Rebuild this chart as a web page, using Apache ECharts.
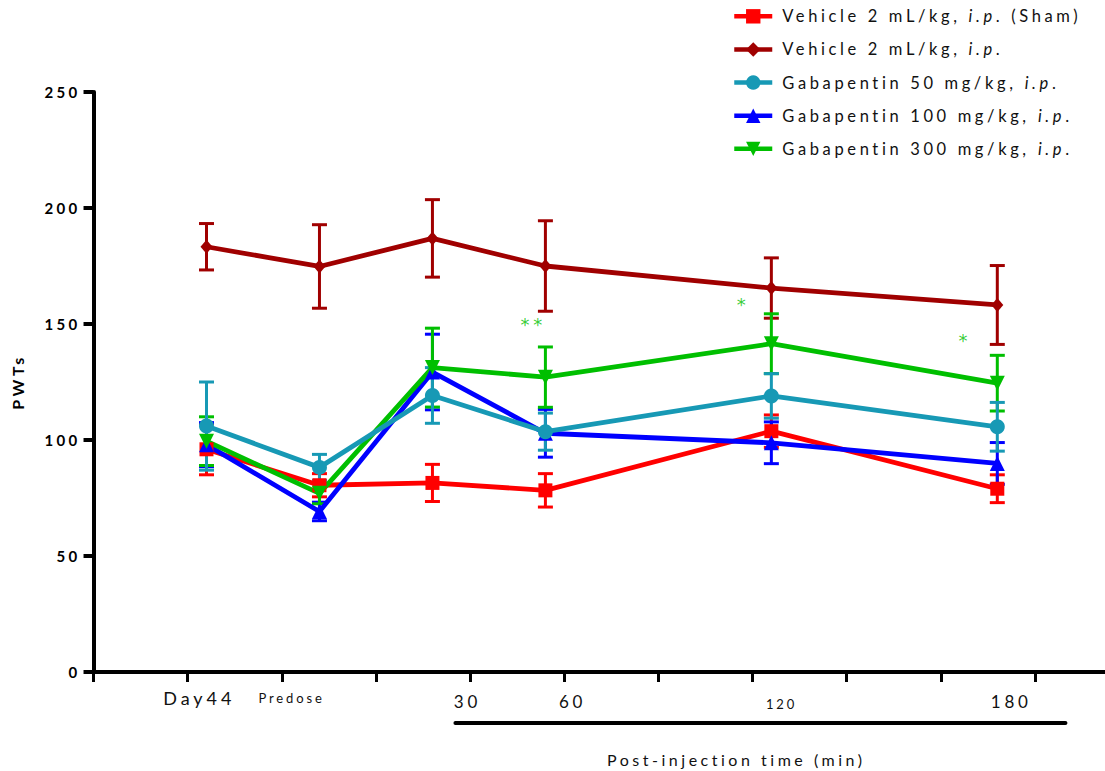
<!DOCTYPE html>
<html><head><meta charset="utf-8">
<script src="https://cdn.jsdelivr.net/npm/echarts@6/dist/echarts.min.js"></script>
<style>
html,body{margin:0;padding:0;background:#fff}
#chart{width:1105px;height:771px}
#chart text{letter-spacing:0.22em}
</style>
</head><body><div id="chart"></div>
<script>
// ---- data ----
// time of each measurement (minutes relative to dosing; Day44 baseline drawn 30 min before predose)
const timeMinutes = [-30, 0, 30, 60, 120, 180];
const seriesNames = [
  'Vehicle 2 mL/kg, i.p. (Sham)',
  'Vehicle 2 mL/kg, i.p.',
  'Gabapentin 50 mg/kg, i.p.',
  'Gabapentin 100 mg/kg, i.p.',
  'Gabapentin 300 mg/kg, i.p.'
];
const shamMean    = [96, 80.5, 81.5, 78.3, 103.8, 79];
const shamSem     = [11, 5, 8, 7.2, 7, 6];
const vehicleMean = [183.3, 174.8, 186.9, 175, 165.5, 158.2];
const vehicleSem  = [10, 18, 16.7, 19.5, 13, 17];
const gaba50Mean  = [106, 88.2, 119.2, 103.6, 119, 105.7];
const gaba50Sem   = [19, 5.6, 12, 8, 9.6, 10.5];
const gaba100Mean = [98, 69.2, 129.3, 102.9, 98.8, 89.9];
const gaba100Sem  = [9.5, 4, 16.3, 10.3, 9, 9];
const gaba300Mean = [99.5, 77, 131.2, 127.1, 141.5, 124.5];
const gaba300Sem  = [10.5, 4.5, 17, 13, 12.9, 12];
// x tick labels (axis units = minutes + 60) and their text
const xLabelPos  = [28.1, 52.6, 99.3, 127.2, 182.7, 243.7];
const xLabelText = ['Day44', 'Predose', '30', '60', '120', '180'];
const xTickValues = [0, 25, 50, 75, 100, 125, 150, 175, 200, 225, 250];
const yTicks = [0, 50, 100, 150, 200, 250];
// significance marks (axis units, PWT value)
const sigX = [116.8, 172.5, 231.4];
const sigY = [149.6, 158.2, 143.1];
const sigText = ['**', '*', '*'];

// ---- letter-spaced text measurement (matches CSS letter-spacing) ----
const LS = 0.22;
if (echarts.setPlatformAPI) {
  const mctx = document.createElement('canvas').getContext('2d');
  echarts.setPlatformAPI({
    measureText: function (text, font) {
      text = text == null ? '' : String(text);
      mctx.font = font || '12px sans-serif';
      const m = mctx.measureText(text);
      const mm = /(\d+(?:\.\d+)?)px/.exec(font || '');
      const size = mm ? parseFloat(mm[1]) : 12;
      return { width: m.width + text.length * LS * size,
        actualBoundingBoxAscent: m.actualBoundingBoxAscent,
        actualBoundingBoxDescent: m.actualBoundingBoxDescent };
    }
  });
}

const OFFSET = 60;
const FONT = 'Lato';
const means = [shamMean, vehicleMean, gaba50Mean, gaba100Mean, gaba300Mean];
const sems = [shamSem, vehicleSem, gaba50Sem, gaba100Sem, gaba300Sem];
const colors = ['#FF0000', '#A00000', '#1799B5', '#0000FF', '#00BF00'];
const symbols = ['rect', 'diamond', 'circle', 'triangle', 'triangle'];
const symSizes = [14, [12, 14], 15, 15, 15];
const symRot = [0, 0, 0, 0, 180];
const drawOrder = [0, 1, 3, 4, 2];

const chart = echarts.init(document.getElementById('chart'), null, { renderer: 'svg' });

const series = [];
drawOrder.forEach(function (k) {
  const c = colors[k];
  series.push({
    type: 'custom',
    name: seriesNames[k] + ' err',
    xAxisIndex: 0, yAxisIndex: 0,
    silent: true,
    encode: { x: 0, y: [1, 2] },
    data: timeMinutes.map(function (t, i) {
      return [t + OFFSET, means[k][i] - sems[k][i], means[k][i] + sems[k][i]];
    }),
    renderItem: function (params, api) {
      const x = api.value(0);
      const p1 = api.coord([x, api.value(2)]);
      const p2 = api.coord([x, api.value(1)]);
      const hw = 7.5;
      const st = { stroke: c, lineWidth: 3 };
      return { type: 'group', children: [
        { type: 'line', shape: { x1: p1[0], y1: p1[1], x2: p2[0], y2: p2[1] }, style: st },
        { type: 'line', shape: { x1: p1[0] - hw, y1: p1[1], x2: p1[0] + hw, y2: p1[1] }, style: st },
        { type: 'line', shape: { x1: p2[0] - hw, y1: p2[1], x2: p2[0] + hw, y2: p2[1] }, style: st }
      ]};
    }
  });
  series.push({
    type: 'line',
    name: seriesNames[k],
    xAxisIndex: 0, yAxisIndex: 0,
    data: timeMinutes.map(function (t, i) { return [t + OFFSET, means[k][i]]; }),
    symbol: symbols[k],
    symbolSize: symSizes[k],
    symbolRotate: symRot[k],
    showSymbol: true,
    color: c,
    itemStyle: { color: c },
    lineStyle: { color: c, width: 4.8 },
    emphasis: { disabled: true },
    silent: true
  });
});
series.push({
  type: 'scatter',
  xAxisIndex: 0, yAxisIndex: 0,
  silent: true,
  symbol: 'circle', symbolSize: 0.1,
  itemStyle: { color: 'transparent' },
  data: sigX.map(function (x, i) { return [x, sigY[i]]; }),
  label: {
    show: true, position: 'inside',
    formatter: function (p) { return sigText[p.dataIndex]; },
    color: '#00BF00', fontSize: 18, fontFamily: 'DejaVu Sans'
  }
});

function labelFor(v) {
  let best = 0, bd = Infinity;
  xLabelPos.forEach(function (p, i) { const d = Math.abs(p - v); if (d < bd) { bd = d; best = i; } });
  const styleKey = ['d', 'p', 'n', 'n', 's', 'n'][best];
  return '{' + styleKey + '|' + xLabelText[best] + '}';
}

const X_MAX = 268.6;
const option = {
  animation: false,
  backgroundColor: '#ffffff',
  textStyle: { fontFamily: FONT },
  grid: { left: 93, right: 0, top: 92, bottom: 99, containLabel: false },
  legend: {
    orient: 'vertical',
    left: 727, top: 1,
    itemWidth: 38, itemHeight: 18,
    itemGap: 12.5,
    data: seriesNames,
    selectedMode: false,
    lineStyle: { width: 4.5 },
    formatter: function (name) {
      return name.replace('i.p.', '{i|i.p}.');
    },
    textStyle: {
      fontFamily: FONT, fontSize: 16.5, color: '#111', lineHeight: 16,
      padding: [0, 0, 0, 5],
      rich: { i: { fontStyle: 'italic', fontSize: 16.5, fontFamily: FONT, color: '#111', lineHeight: 16 } }
    }
  },
  xAxis: [{
    type: 'value', min: 0, max: X_MAX,
    axisLine: { show: true, onZero: false, lineStyle: { color: '#000', width: 4 } },
    axisTick: { show: true, customValues: xTickValues, length: 10, lineStyle: { color: '#000', width: 3 } },
    axisLabel: { show: false },
    splitLine: { show: false }
  }, {
    type: 'value', min: 0, max: X_MAX, position: 'bottom',
    axisLine: { show: false }, axisTick: { show: false }, splitLine: { show: false },
    axisLabel: {
      show: true, customValues: xLabelPos, margin: 10,
      formatter: function (v) { return labelFor(v); },
      rich: {
        d: { fontSize: 18, lineHeight: 32, color: '#111', fontFamily: FONT },
        p: { fontSize: 13, lineHeight: 32, color: '#111', fontFamily: FONT },
        n: { fontSize: 17, lineHeight: 38, color: '#111', fontFamily: FONT },
        s: { fontSize: 13, lineHeight: 44, color: '#111', fontFamily: FONT }
      }
    }
  }],
  yAxis: {
    type: 'value', min: 0, max: 250, interval: 50,
    name: 'PWTs', nameLocation: 'middle', nameGap: 66, nameRotate: 90,
    nameTextStyle: { fontFamily: FONT, fontWeight: 'bold', fontSize: 16, color: '#000' },
    axisLine: { show: true, lineStyle: { color: '#000', width: 4 } },
    axisTick: { show: true, length: 10, lineStyle: { color: '#000', width: 4 } },
    axisLabel: { margin: 13, fontFamily: FONT, fontWeight: 'bold', fontSize: 15, color: '#000' },
    splitLine: { show: false }
  },
  series: series
};
chart.setOption(option);

// bracket bar under post-injection labels and its title
const barStart = 96.1, barEnd = 258.1;
const px1 = chart.convertToPixel({ xAxisIndex: 0 }, barStart);
const px2 = chart.convertToPixel({ xAxisIndex: 0 }, barEnd);
const axisY = chart.convertToPixel({ yAxisIndex: 0 }, 0);
chart.setOption({
  graphic: [
    { type: 'line', shape: { x1: px1, y1: axisY + 51, x2: px2, y2: axisY + 51 },
      style: { stroke: '#000', lineWidth: 4, lineCap: 'round' }, silent: true },
    { type: 'text', left: 607, top: 750,
      style: { text: 'Post-injection time (min)', fontFamily: FONT, fontSize: 16, fill: '#111' }, silent: true }
  ]
});
</script></body></html>
